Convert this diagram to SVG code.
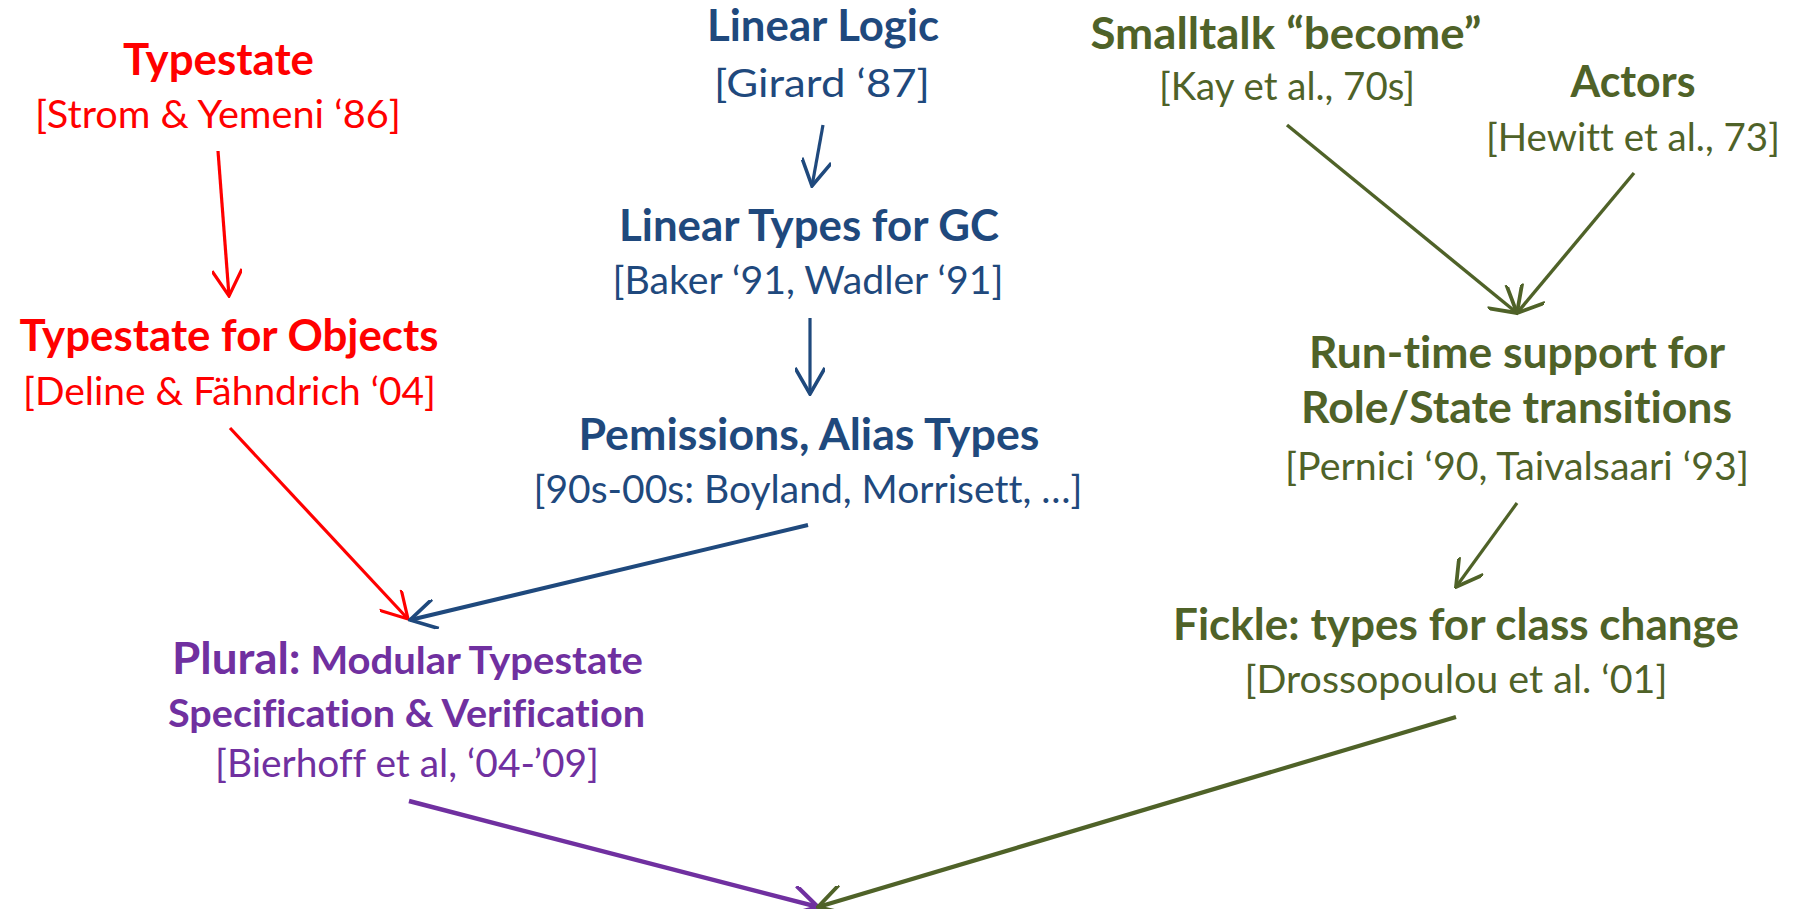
<svg xmlns="http://www.w3.org/2000/svg" width="1801" height="909" viewBox="0 0 1801 909">
  <style>
    text { font-family: Lato, "Carlito", "Liberation Sans", sans-serif; text-anchor: middle; font-variant-ligatures: none; }
    .t { font-weight: 700; font-size: 43.5px; }
    .s { font-weight: 700; font-size: 38px; }
    .r { font-weight: 400; font-size: 39px; }
    .red { fill: #FF0000; }
    .blue { fill: #1F497D; }
    .purple { fill: #7030A0; }
    .green { fill: #4F6228; }
    .edge { fill: none; stroke-linecap: butt; }
  </style>
  <defs>
    <marker id="ah-red" viewBox="0 0 30 30" refX="28" refY="15" markerWidth="30" markerHeight="30" markerUnits="userSpaceOnUse" orient="auto">
      <path d="M2,0 L28,15 L2,30" fill="none" stroke="#FF0000" stroke-width="3.2"/>
    </marker>
    <marker id="ah-blue" viewBox="0 0 30 30" refX="28" refY="15" markerWidth="30" markerHeight="30" markerUnits="userSpaceOnUse" orient="auto">
      <path d="M2,0 L28,15 L2,30" fill="none" stroke="#1F497D" stroke-width="3.6"/>
    </marker>
    <marker id="ah-purple" viewBox="0 0 30 30" refX="28" refY="15" markerWidth="30" markerHeight="30" markerUnits="userSpaceOnUse" orient="auto">
      <path d="M2,0 L28,15 L2,30" fill="none" stroke="#7030A0" stroke-width="4.2"/>
    </marker>
    <marker id="ah-green" viewBox="0 0 30 30" refX="28" refY="15" markerWidth="30" markerHeight="30" markerUnits="userSpaceOnUse" orient="auto">
      <path d="M2,0 L28,15 L2,30" fill="none" stroke="#4F6228" stroke-width="3.8"/>
    </marker>
  </defs>

  <rect x="0" y="0" width="1801" height="909" fill="#FFFFFF"/>

  <!-- typestate lineage -->
  <g id="typestate">
    <text class="t red" x="218.5" y="75" textLength="191" lengthAdjust="spacingAndGlyphs">Typestate</text>
    <text class="r red" x="218" y="128" textLength="366" lengthAdjust="spacingAndGlyphs">[Strom &amp; Yemeni ‘86]</text>
  </g>
  <g id="typestate-objects">
    <text class="t red" x="229" y="351" textLength="419" lengthAdjust="spacingAndGlyphs">Typestate for Objects</text>
    <text class="r red" x="229.5" y="405" textLength="413" lengthAdjust="spacingAndGlyphs">[Deline &amp; Fähndrich ‘04]</text>
  </g>

  <!-- linear logic lineage -->
  <g id="linear-logic">
    <text class="t blue" x="823" y="41" textLength="232" lengthAdjust="spacingAndGlyphs">Linear Logic</text>
    <text class="r blue" x="822" y="97" textLength="216" lengthAdjust="spacingAndGlyphs">[Girard ‘87]</text>
  </g>
  <g id="linear-types-gc">
    <text class="t blue" x="809" y="241" textLength="380" lengthAdjust="spacingAndGlyphs">Linear Types for GC</text>
    <text class="r blue" x="808" y="294" textLength="391" lengthAdjust="spacingAndGlyphs">[Baker ‘91, Wadler ‘91]</text>
  </g>
  <g id="permissions">
    <text class="t blue" x="809" y="450" textLength="461" lengthAdjust="spacingAndGlyphs">Pemissions, Alias Types</text>
    <text class="r blue" x="808" y="503" textLength="549" lengthAdjust="spacingAndGlyphs">[90s-00s: Boyland, Morrisett, …]</text>
  </g>

  <!-- plural -->
  <g id="plural">
    <text class="purple" x="407.5" y="674" textLength="471" lengthAdjust="spacingAndGlyphs"><tspan class="t">Plural:</tspan><tspan class="s"> Modular Typestate</tspan></text>
    <text class="s purple" x="406.5" y="727" textLength="477" lengthAdjust="spacingAndGlyphs">Specification &amp; Verification</text>
    <text class="r purple" x="407" y="777" textLength="384" lengthAdjust="spacingAndGlyphs">[Bierhoff et al, ‘04-’09]</text>
  </g>

  <!-- role / state change lineage -->
  <g id="smalltalk">
    <text class="t green" x="1286" y="49" textLength="391" lengthAdjust="spacingAndGlyphs">Smalltalk “become”</text>
    <text class="r green" x="1287" y="100" textLength="256" lengthAdjust="spacingAndGlyphs">[Kay et al., 70s]</text>
  </g>
  <g id="actors">
    <text class="t green" x="1633" y="97" textLength="125" lengthAdjust="spacingAndGlyphs">Actors</text>
    <text class="r green" x="1633" y="151" textLength="294" lengthAdjust="spacingAndGlyphs">[Hewitt et al., 73]</text>
  </g>
  <g id="runtime-roles">
    <text class="t green" x="1517" y="368" textLength="416" lengthAdjust="spacingAndGlyphs">Run-time support for</text>
    <text class="t green" x="1516.5" y="423" textLength="431" lengthAdjust="spacingAndGlyphs">Role/State transitions</text>
    <text class="r green" x="1517" y="480" textLength="464" lengthAdjust="spacingAndGlyphs">[Pernici ‘90, Taivalsaari ‘93]</text>
  </g>
  <g id="fickle">
    <text class="t green" x="1456" y="640" textLength="566" lengthAdjust="spacingAndGlyphs">Fickle: types for class change</text>
    <text class="r green" x="1456" y="693" textLength="423" lengthAdjust="spacingAndGlyphs">[Drossopoulou et al. ‘01]</text>
  </g>

  <!-- connectors -->
  <g id="connectors" class="edge">
    <path d="M218,151 L229,296" stroke="#FF0000" stroke-width="3.2" marker-end="url(#ah-red)"/>
    <path d="M230,428 L408,619" stroke="#FF0000" stroke-width="3.2" marker-end="url(#ah-red)"/>
    <path d="M823,125 L812,186" stroke="#1F497D" stroke-width="3.2" marker-end="url(#ah-blue)"/>
    <path d="M810,318 L810,394" stroke="#1F497D" stroke-width="3.2" marker-end="url(#ah-blue)"/>
    <path d="M808,525 L410,620" stroke="#1F497D" stroke-width="4" marker-end="url(#ah-blue)"/>
    <path d="M409,801 L818,907" stroke="#7030A0" stroke-width="4.4" marker-end="url(#ah-purple)"/>
    <path d="M1287,125 L1517,313" stroke="#4F6228" stroke-width="3.4" marker-end="url(#ah-green)"/>
    <path d="M1634,173 L1517,313" stroke="#4F6228" stroke-width="3.4" marker-end="url(#ah-green)"/>
    <path d="M1517,503 L1456,587" stroke="#4F6228" stroke-width="3.2" marker-end="url(#ah-green)"/>
    <path d="M1456,717 L818,907" stroke="#4F6228" stroke-width="4.2" marker-end="url(#ah-green)"/>
  </g>
</svg>
